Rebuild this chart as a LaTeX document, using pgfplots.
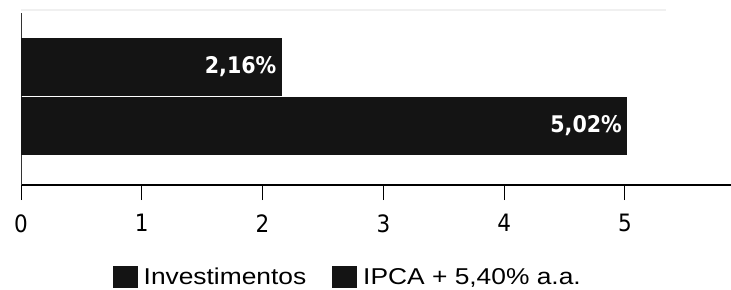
\documentclass[border=0pt]{standalone}
\usepackage{pgfplots}
\pgfplotsset{compat=1.18}
\usepackage{fontspec}
\setmainfont{Liberation Sans}
\newfontfamily\legfont[FakeStretch=1.15]{Liberation Sans}
\newfontfamily\tickfont{DejaVu Sans Condensed}
\begin{document}
\begin{tikzpicture}
\begin{axis}[
  scale only axis,
  width=710bp, height=172bp,
  xmin=0, xmax=5.878,
  ymin=-1.004, ymax=1.911,
  xbar, bar shift=0pt, bar width=0.975,
  axis lines*=left,
  axis line style={-},
  x axis line style={line width=1.6bp, black},
  y axis line style={line width=0.8bp, black!80},
  xtick={0,1,2,3,4,5},
  xticklabels={0,1,2,3,4,5},
  ytick=\empty,
  tick align=outside,
  major tick length=15bp,
  xtick style={line width=1bp, black},
  xticklabel style={font=\tickfont\fontsize{24}{24}\selectfont, yshift=-11bp},
  point meta=explicit symbolic,
  nodes near coords,
  nodes near coords style={anchor=east, xshift=-2bp, text=white, font=\tickfont\bfseries\fontsize{23}{23}\selectfont},
  clip=false,
  legend columns=2,
  legend style={draw=none, fill=none, at={(0.463,0)}, anchor=center, yshift=-92bp,
    font=\legfont\fontsize{23}{23}\selectfont,
    /tikz/every even column/.append style={column sep=20bp},
    nodes={inner xsep=6bp}},
  legend image code/.code={\fill[black!92] (0bp,-11bp) rectangle (25bp,11bp);},
]
\addplot[fill=black!92, draw=none] coordinates {(2.16,1) [2,16\%]};
\addlegendentry{Investimentos}
\addplot[fill=black!92, draw=none] coordinates {(5.02,0) [5,02\%]};
\addlegendentry{IPCA + 5,40\% a.a.}
\draw[black!6, line width=2bp] (axis cs:0,1.96) -- (axis cs:5.34,1.96);
\coordinate (bl) at (rel axis cs:0,0);
\coordinate (tr) at (rel axis cs:1,1);
\end{axis}
\pgfresetboundingbox
\path ([xshift=-21bp,yshift=-105bp]bl) rectangle ([yshift=13bp]tr);
\end{tikzpicture}
\end{document}
